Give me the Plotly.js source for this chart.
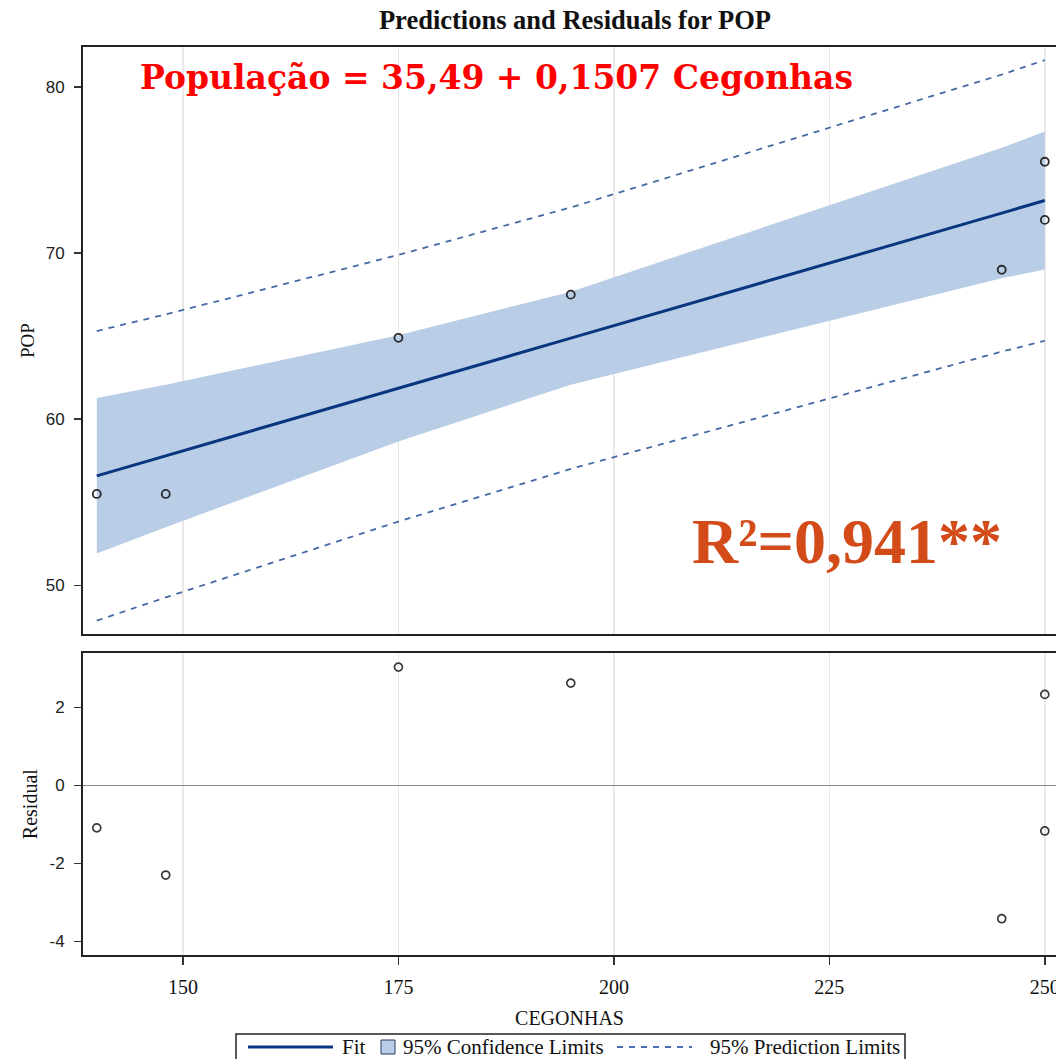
<!DOCTYPE html>
<html>
<head>
<meta charset="utf-8">
<script src="https://cdn.plot.ly/plotly-3.0.1.min.js"></script>
<style>html,body{margin:0;padding:0;background:#fff;}#chart{width:1056px;height:1059px;}</style>
</head>
<body>
<div id="chart"></div>
<script>
// Observed data
const cegonhas = [140, 148, 175, 195, 245, 250, 250];
const pop = [55.5, 55.5, 64.9, 67.5, 69.0, 75.5, 72.0];
const residual = [-1.09, -2.30, 3.03, 2.62, -3.42, 2.33, -1.17];
// Fit and limits read at the observed x positions
const bandX = [140, 148, 175, 195, 245, 250];
const fit = [56.59, 57.79, 61.86, 64.88, 72.41, 73.17];
const clLower = [51.91, 53.50, 58.66, 62.08, 68.48, 69.01];
const clUpper = [61.27, 62.08, 65.06, 67.68, 76.34, 77.32];
const plLower = [47.87, 49.27, 53.84, 57.01, 64.07, 64.72];
const plUpper = [65.31, 66.31, 69.89, 72.75, 80.75, 81.62];
const xTicks = [150, 175, 200, 225, 250];
const popTicks = [50, 60, 70, 80];
const resTicks = [-4, -2, 0, 2];
const resTickLabels = ['-4', '-2', '0', '2'];
const legendLabels = ['Fit', '95% Confidence Limits', '95% Prediction Limits'];

const serif = "'Liberation Serif', 'Times New Roman', serif";
const sans = "'Liberation Sans', Arial, sans-serif";
const bandColor = 'rgb(185,206,230)';
const fitColor = 'rgb(10,54,128)';
const plColor = 'rgb(70,105,165)';
const dashStyle = '6px,6px';

const traces = [
  {x: bandX, y: clLower, type: 'scatter', mode: 'lines', line: {width: 0, color: bandColor},
   hoverinfo: 'skip', xaxis: 'x', yaxis: 'y'},
  {x: bandX, y: clUpper, type: 'scatter', mode: 'lines', line: {width: 0, color: bandColor},
   fill: 'tonexty', fillcolor: bandColor, xaxis: 'x', yaxis: 'y'},
  {x: bandX, y: plUpper, type: 'scatter', mode: 'lines', line: {color: plColor, width: 1.8, dash: dashStyle},
   xaxis: 'x', yaxis: 'y'},
  {x: bandX, y: plLower, type: 'scatter', mode: 'lines', line: {color: plColor, width: 1.8, dash: dashStyle},
   xaxis: 'x', yaxis: 'y'},
  {x: bandX, y: fit, type: 'scatter', mode: 'lines', line: {color: fitColor, width: 3}, xaxis: 'x', yaxis: 'y'},
  {x: cegonhas, y: pop, type: 'scatter', mode: 'markers',
   marker: {symbol: 'circle-open', size: 8, color: '#2a2a2a', line: {width: 1.8, color: '#2a2a2a'}}, xaxis: 'x', yaxis: 'y'},
  {x: cegonhas, y: residual, type: 'scatter', mode: 'markers',
   marker: {symbol: 'circle-open', size: 8, color: '#3a3a3a', line: {width: 1.7, color: '#3a3a3a'}}, xaxis: 'x2', yaxis: 'y2'}
];

// helpers to place legend decoration in paper coordinates (plot area: l=83, width=973, bottom px=955, height=908)
const PX = v => (v - 83) / 973;
const PY = v => (955 - v) / 908;

const xCommon = {
  range: [138.4, 251.3], tickvals: xTicks, showgrid: true, gridcolor: '#e9e9e9', gridwidth: 1.5,
  zeroline: false, showline: true, linecolor: '#222', linewidth: 2, mirror: true
};

const legendFont = {family: serif, size: 21, color: '#111'};

const layout = {
  width: 1056, height: 1059,
  margin: {l: 83, r: 0, t: 47, b: 104},
  showlegend: false,
  paper_bgcolor: '#fff', plot_bgcolor: '#fff',
  title: {text: '<b>Predictions and Residuals for POP</b>', font: {family: serif, size: 26.5, color: '#111'},
          x: 0.5445, xanchor: 'center', y: 0.981, yanchor: 'middle'},
  xaxis: Object.assign({}, xCommon, {anchor: 'y', matches: 'x2', showticklabels: false, ticks: ''}),
  xaxis2: Object.assign({}, xCommon, {anchor: 'y2', ticks: 'outside', ticklen: 8, tickwidth: 1.5, tickcolor: '#333',
          ticklabeloverflow: 'allow', ticklabelstandoff: 5,
          tickfont: {family: serif, size: 20, color: '#111'},
          title: {text: 'CEGONHAS', font: {family: serif, size: 20, color: '#111'}, standoff: 14}}),
  yaxis: {domain: [0.3532, 1], range: [47.05, 82.41], tickvals: popTicks, showgrid: false, zeroline: false,
          showline: true, linecolor: '#222', linewidth: 2, ticks: 'outside', ticklen: 7, tickwidth: 1.5, tickcolor: '#333',
          ticklabelstandoff: 6,
          tickfont: {family: sans, size: 17, color: '#222'},
          title: {text: 'POP', font: {family: serif, size: 19, color: '#111'}, standoff: 6}},
  yaxis2: {domain: [0, 0.3323], range: [-4.35, 3.385], tickvals: resTicks, ticktext: resTickLabels, showgrid: false,
          zeroline: true, zerolinecolor: '#8a8a8a', zerolinewidth: 1.5,
          showline: true, linecolor: '#222', linewidth: 2, ticks: 'outside', ticklen: 7, tickwidth: 1.5, tickcolor: '#333',
          ticklabelstandoff: 6,
          tickfont: {family: sans, size: 17, color: '#222'},
          title: {text: 'Residual', font: {family: serif, size: 20, color: '#111'}, standoff: 6}},
  shapes: [
    // legend box and samples
    {type: 'rect', xref: 'paper', yref: 'paper', x0: PX(236), x1: PX(905), y0: PY(1034), y1: PY(1066),
     line: {color: '#222', width: 1.5}, fillcolor: 'rgba(0,0,0,0)'},
    {type: 'line', xref: 'paper', yref: 'paper', x0: PX(248), x1: PX(333), y0: PY(1047), y1: PY(1047),
     line: {color: fitColor, width: 3}},
    {type: 'rect', xref: 'paper', yref: 'paper', x0: PX(381), x1: PX(395), y0: PY(1040), y1: PY(1054),
     line: {color: 'rgb(40,60,100)', width: 1}, fillcolor: bandColor},
    {type: 'line', xref: 'paper', yref: 'paper', x0: PX(617), x1: PX(692), y0: PY(1047), y1: PY(1047),
     line: {color: 'rgb(20,60,150)', width: 1.5, dash: dashStyle}}
  ],
  annotations: [
    {xref: 'paper', yref: 'paper', x: 0.0565, y: 0.9659, xanchor: 'left', yanchor: 'middle', showarrow: false,
     text: '<b>População = 35,49 + 0,1507 Cegonhas</b>',
     font: {family: "Georgia, 'DejaVu Serif', serif", size: 33, color: '#ff0000'}},
    {xref: 'paper', yref: 'paper', x: 0.6238, y: 0.455, xanchor: 'left', yanchor: 'middle', showarrow: false,
     text: '<b>R²=0,941**</b>',
     font: {family: serif, size: 64, color: 'rgb(210,75,25)'}},
    {xref: 'paper', yref: 'paper', x: PX(340), y: PY(1047), xanchor: 'left', yanchor: 'middle', showarrow: false,
     text: legendLabels[0], font: legendFont},
    {xref: 'paper', yref: 'paper', x: PX(401), y: PY(1047), xanchor: 'left', yanchor: 'middle', showarrow: false,
     text: legendLabels[1], font: legendFont},
    {xref: 'paper', yref: 'paper', x: PX(708), y: PY(1047), xanchor: 'left', yanchor: 'middle', showarrow: false,
     text: legendLabels[2], font: legendFont}
  ]
};

Plotly.newPlot('chart', traces, layout, {displayModeBar: false, staticPlot: true});
</script>
</body>
</html>
